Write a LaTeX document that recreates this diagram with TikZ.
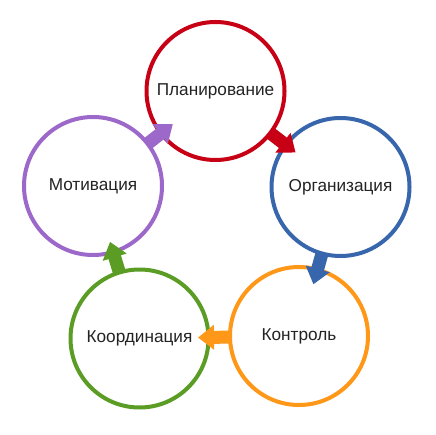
\documentclass[tikz,border=0pt]{standalone}
\usepackage{fontspec}
\setmainfont{Liberation Sans}
\usetikzlibrary{calc,arrows.meta}
\definecolor{cred}{RGB}{200,0,22}
\definecolor{cblue}{RGB}{56,102,172}
\definecolor{corange}{RGB}{255,152,24}
\definecolor{cgreen}{RGB}{90,156,36}
\definecolor{cpurple}{RGB}{156,104,202}
\definecolor{ctext}{RGB}{35,35,35}
\tikzset{
  ring/.style={circle, draw=#1, line width=4pt, minimum size=138pt, inner sep=0pt,
    font=\fontsize{17.2}{20}\selectfont, text=ctext},
  blockarrow/.style={line width=13pt, draw=#1,
    -{Triangle[width=24pt,length=16pt,fill=#1]}}
}
\begin{document}
\begin{tikzpicture}[x=1pt,y=-1pt]
\useasboundingbox[fill=white] (0,0) rectangle (435,435);
\node[ring=cred] (plan) at (215.5,91) {Планирование};
\node[ring=cblue] (org) at (340.5,187) {Организация};
\node[ring=corange] (ctrl) at (299,336) {Контроль};
\node[ring=cgreen] (coord) at (139.5,338.5) {Координация};
\node[ring=cpurple] (motiv) at (93,186) {Мотивация};
\foreach \a/\b/\c in {plan/org/cred, org/ctrl/cblue, ctrl/coord/corange, coord/motiv/cgreen, motiv/plan/cpurple}{
  \draw[blockarrow=\c]
    ($(\a.center)!69pt!(\b.center)$) -- ($(\a.center)!101pt!(\b.center)$);
}
\end{tikzpicture}
\end{document}
